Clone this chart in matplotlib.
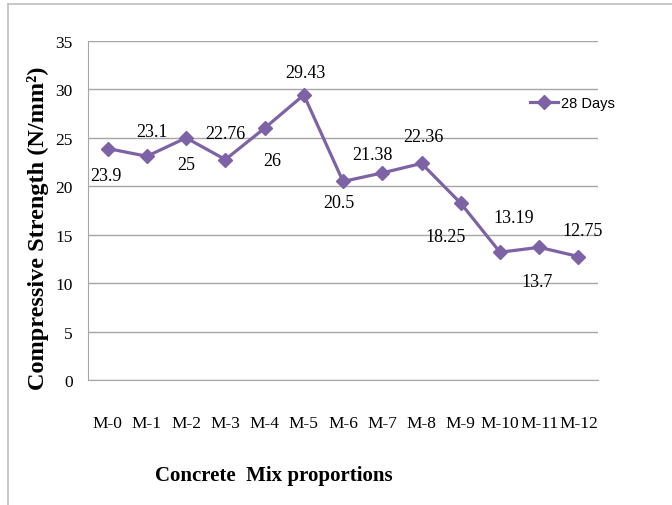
import matplotlib.pyplot as plt
from matplotlib.lines import Line2D

# data
mixes = ['M-0', 'M-1', 'M-2', 'M-3', 'M-4', 'M-5', 'M-6',
         'M-7', 'M-8', 'M-9', 'M-10', 'M-11', 'M-12']
strength_28 = [23.9, 23.1, 25, 22.76, 26, 29.43, 20.5,
               21.38, 22.36, 18.25, 13.19, 13.7, 12.75]
label_text = ['23.9', '23.1', '25', '22.76', '26', '29.43', '20.5',
              '21.38', '22.36', '18.25', '13.19', '13.7', '12.75']

# where each data label sits relative to its point (pixels)
label_offsets = [(-2, -27), (5, 25), (0, -27), (0, 26), (8, -32), (2, 22), (-4, -21),
                 (-10, 18), (2, 27), (-15, -33), (14, 35), (-2, -34), (4, 26)]

purple = '#7E62A6'
serif = ['Liberation Serif', 'DejaVu Serif']

fig = plt.figure(figsize=(6.72, 5.06), dpi=100)
ax = fig.add_axes([0.131, 0.247, 0.759, 0.670])

x = list(range(len(mixes)))
ax.plot(x, strength_28, color=purple, lw=2.3, marker='D', ms=7,
        markerfacecolor=purple, markeredgecolor=purple, label='28 Days')

for i, (v, t, off) in enumerate(zip(strength_28, label_text, label_offsets)):
    ax.annotate(t, (i, v), xytext=off, textcoords='offset pixels',
                ha='center', va='center', fontsize=13, family=serif)

ax.set_xlim(-0.5, 12.5)
ax.set_ylim(0, 35)
ax.set_yticks(range(0, 36, 5))
ax.set_xticks(x)
ax.set_xticklabels(mixes, family=serif, fontsize=12.5)
ax.tick_params(axis='y', length=0, pad=11, labelsize=12.5)
ax.tick_params(axis='x', length=0, pad=25)
for lab in ax.get_yticklabels():
    lab.set_family(serif)

ax.grid(axis='y', color='#A6A6A6', lw=1)
ax.set_axisbelow(True)
for side in ['top', 'right']:
    ax.spines[side].set_visible(False)
ax.spines['left'].set_color('#A6A6A6')
ax.spines['bottom'].set_color('#A6A6A6')

fig.text(38 / 672, 1 - 228 / 506, 'Compressive Strength (N/mm²)', rotation=90,
         ha='center', va='center', family=serif, fontsize=17.5, fontweight='bold')
fig.text(274 / 672, 1 - 476 / 506, 'Concrete  Mix proportions',
         ha='center', va='center', family=serif, fontsize=15, fontweight='bold')

handle = Line2D([], [], color=purple, lw=2.3, marker='D', ms=7)
fig.legend([handle], ['28 Days'], loc='center left', bbox_to_anchor=(530 / 672, 1 - 104 / 506),
           frameon=False, handlelength=1.9, handletextpad=0.25, borderpad=0, borderaxespad=0,
           prop={'family': ['Liberation Sans', 'DejaVu Sans'], 'size': 10.5})

# outer chart border (left and top only visible)
fig.add_artist(Line2D([0.012, 0.012], [0, 0.99], color='#BFBFBF', lw=1.2,
                      transform=fig.transFigure))
fig.add_artist(Line2D([0.012, 1], [0.99, 0.99], color='#BFBFBF', lw=1.2,
                      transform=fig.transFigure))

fig.savefig('out.png', dpi=100)
